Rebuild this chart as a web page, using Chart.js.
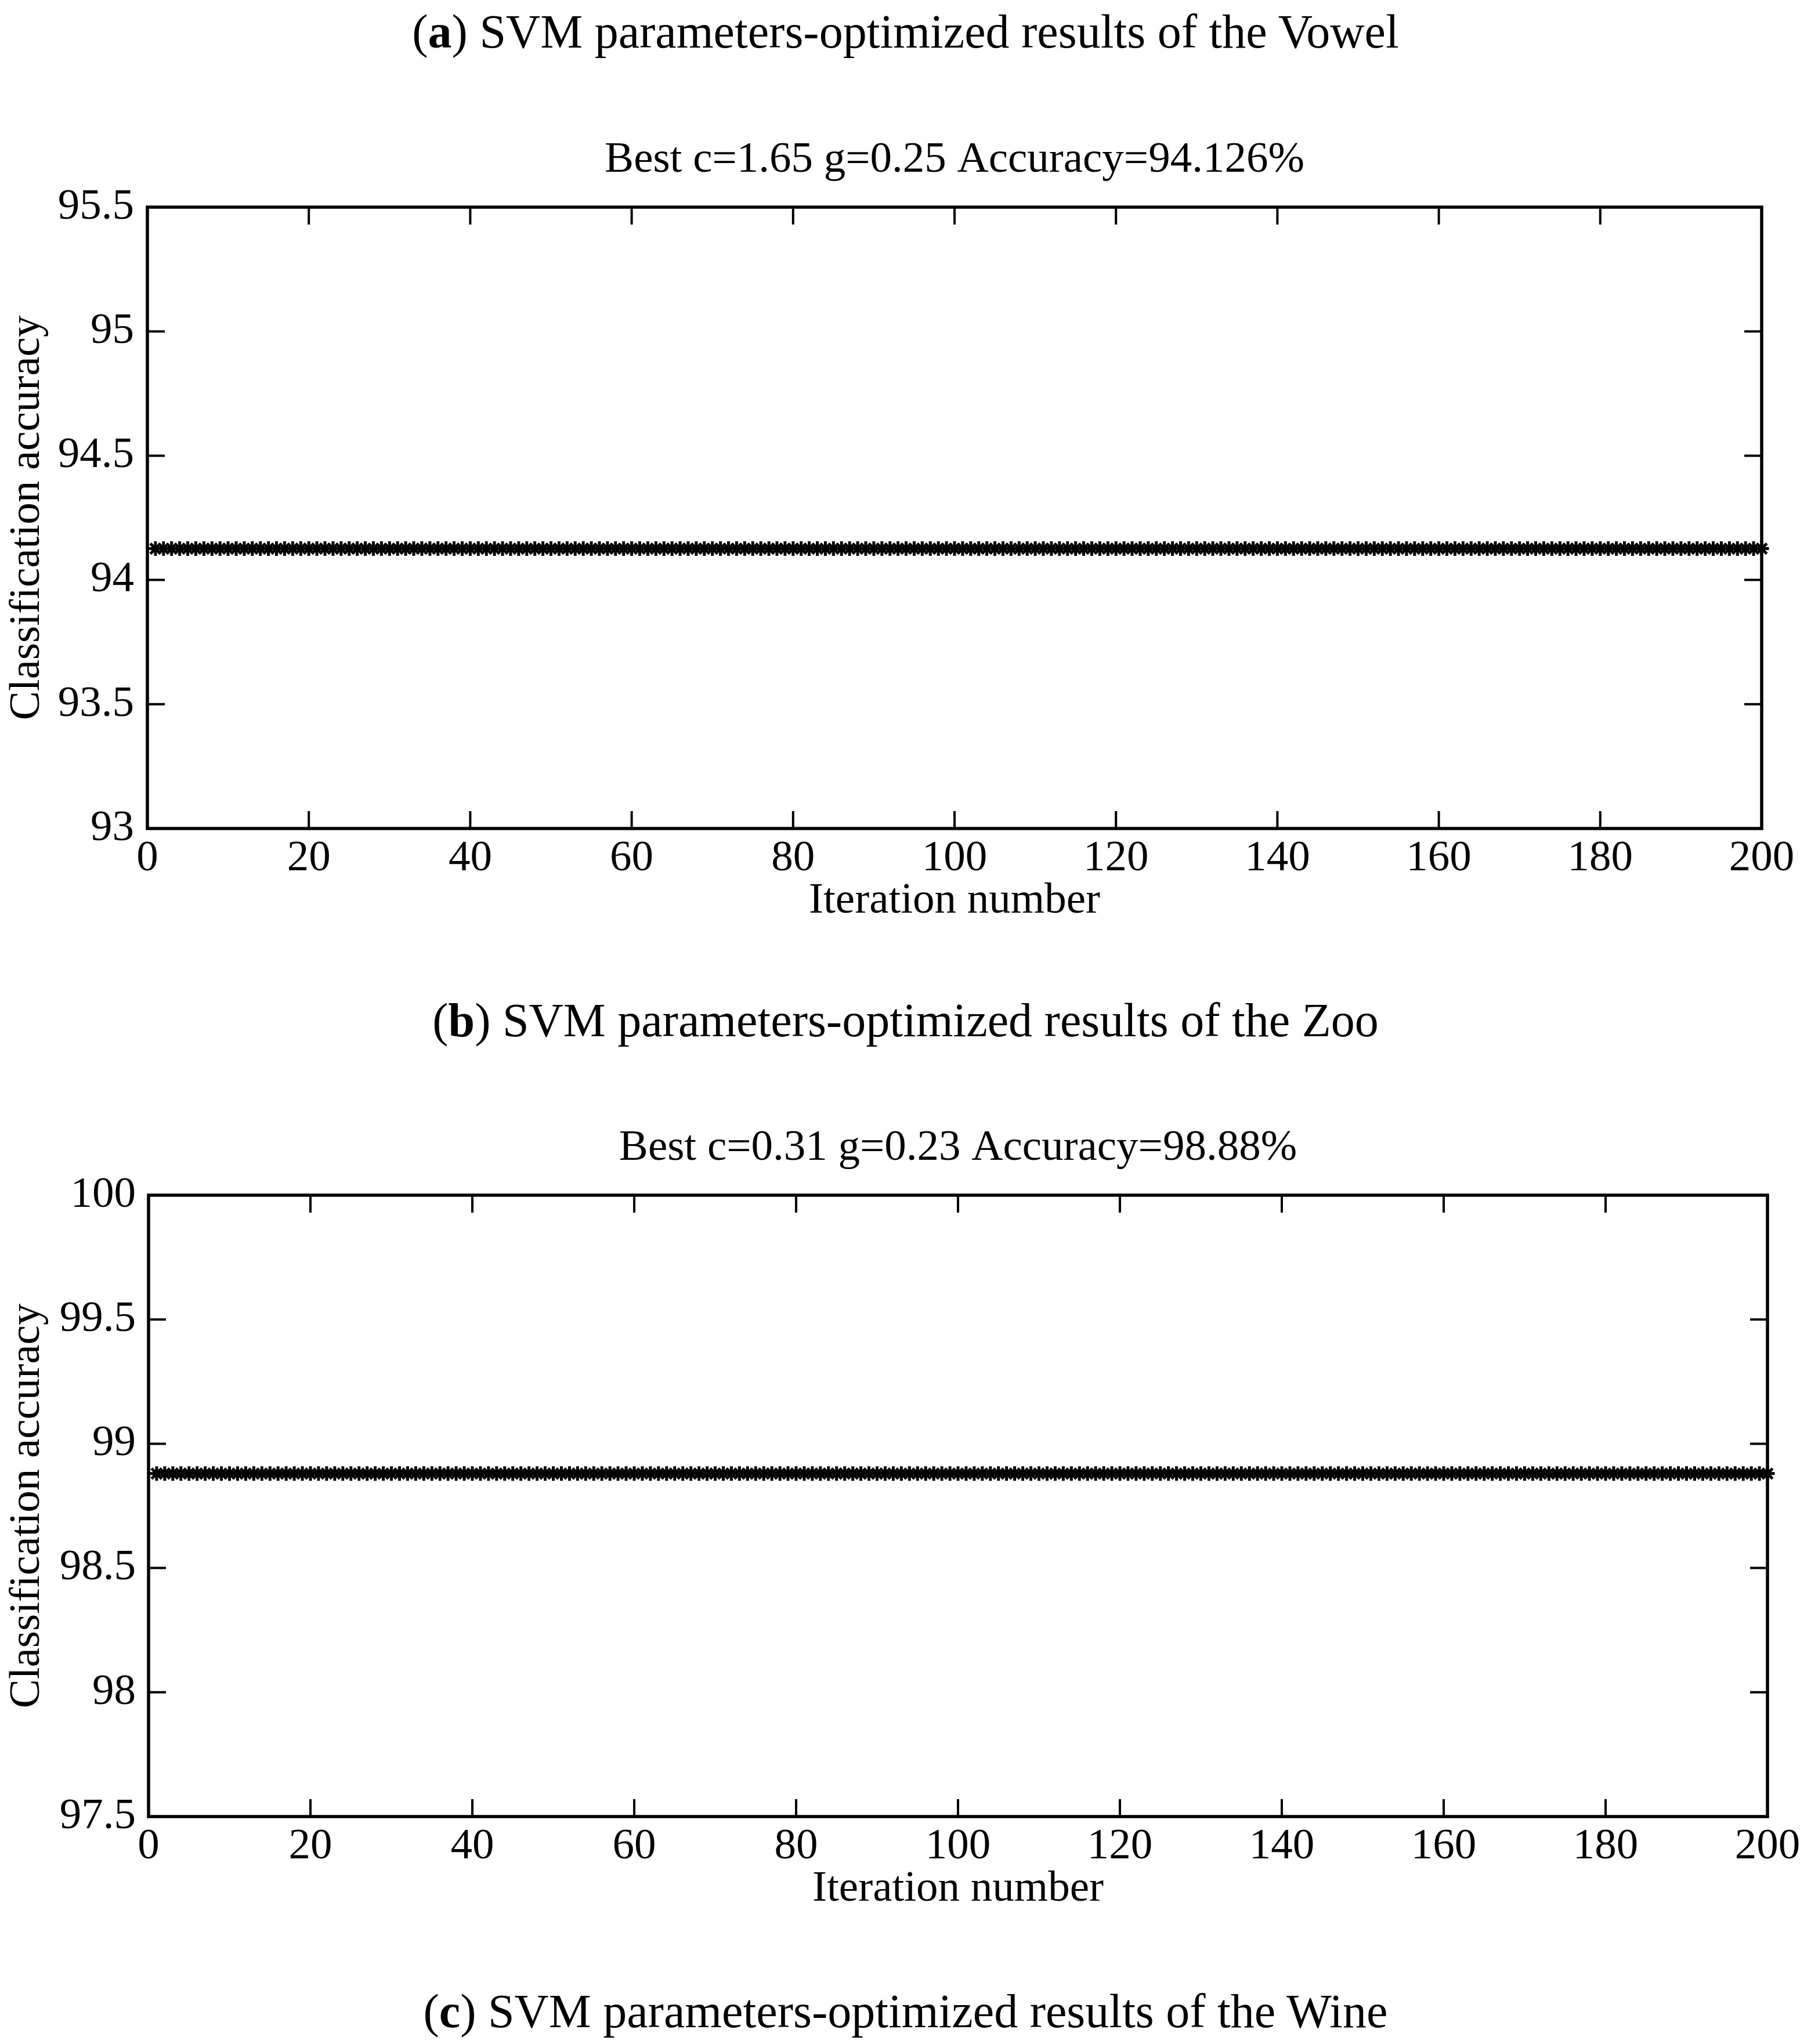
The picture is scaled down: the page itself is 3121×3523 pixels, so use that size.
<!DOCTYPE html>
<html>
<head>
<meta charset="utf-8">
<script src="https://cdn.jsdelivr.net/npm/chart.js@4.4.1/dist/chart.umd.min.js"></script>
<style>
html,body{margin:0;padding:0;background:#fff;overflow:hidden;}
#page{position:relative;width:3121px;height:3523px;background:#fff;}
.cap{position:absolute;left:0;width:3121px;text-align:center;font-family:'Liberation Serif','Times New Roman',serif;font-size:82px;line-height:82px;color:#000;white-space:nowrap;}
canvas{position:absolute;left:0;}
</style>
</head>
<body>
<div id="page">
<div class="cap" id="capA" style="top:14px"></div>
<canvas id="c1" width="3121" height="1440" style="top:180px;width:3121px;height:1440px"></canvas>
<div class="cap" id="capB" style="top:1718px"></div>
<canvas id="c2" width="3121" height="1440" style="top:1883px;width:3121px;height:1440px"></canvas>
<div class="cap" id="capC" style="top:3426px"></div>
</div>
<script>
// ---------------- data ----------------
const captionLetters = ['a', 'b', 'c'];
const captionTexts = [
  ' SVM parameters-optimized results of the Vowel',
  ' SVM parameters-optimized results of the Zoo',
  ' SVM parameters-optimized results of the Wine'
];
const chartTitles = [
  'Best c=1.65 g=0.25 Accuracy=94.126%',
  'Best c=0.31 g=0.23 Accuracy=98.88%'
];
const xAxisTitle = 'Iteration number';
const yAxisTitle = 'Classification accuracy';
const xTickValues = [0, 20, 40, 60, 80, 100, 120, 140, 160, 180, 200];
const yTickValuesChart1 = [93, 93.5, 94, 94.5, 95, 95.5];
const yTickValuesChart2 = [97.5, 98, 98.5, 99, 99.5, 100];

const iterations = [
  1,2,3,4,5,6,7,8,9,10,11,12,13,14,15,16,17,18,19,20,
  21,22,23,24,25,26,27,28,29,30,31,32,33,34,35,36,37,38,39,40,
  41,42,43,44,45,46,47,48,49,50,51,52,53,54,55,56,57,58,59,60,
  61,62,63,64,65,66,67,68,69,70,71,72,73,74,75,76,77,78,79,80,
  81,82,83,84,85,86,87,88,89,90,91,92,93,94,95,96,97,98,99,100,
  101,102,103,104,105,106,107,108,109,110,111,112,113,114,115,116,117,118,119,120,
  121,122,123,124,125,126,127,128,129,130,131,132,133,134,135,136,137,138,139,140,
  141,142,143,144,145,146,147,148,149,150,151,152,153,154,155,156,157,158,159,160,
  161,162,163,164,165,166,167,168,169,170,171,172,173,174,175,176,177,178,179,180,
  181,182,183,184,185,186,187,188,189,190,191,192,193,194,195,196,197,198,199,200
];
const accuracyVowel = [
  94.126,94.126,94.126,94.126,94.126,94.126,94.126,94.126,94.126,94.126,94.126,94.126,94.126,94.126,94.126,94.126,94.126,94.126,94.126,94.126,
  94.126,94.126,94.126,94.126,94.126,94.126,94.126,94.126,94.126,94.126,94.126,94.126,94.126,94.126,94.126,94.126,94.126,94.126,94.126,94.126,
  94.126,94.126,94.126,94.126,94.126,94.126,94.126,94.126,94.126,94.126,94.126,94.126,94.126,94.126,94.126,94.126,94.126,94.126,94.126,94.126,
  94.126,94.126,94.126,94.126,94.126,94.126,94.126,94.126,94.126,94.126,94.126,94.126,94.126,94.126,94.126,94.126,94.126,94.126,94.126,94.126,
  94.126,94.126,94.126,94.126,94.126,94.126,94.126,94.126,94.126,94.126,94.126,94.126,94.126,94.126,94.126,94.126,94.126,94.126,94.126,94.126,
  94.126,94.126,94.126,94.126,94.126,94.126,94.126,94.126,94.126,94.126,94.126,94.126,94.126,94.126,94.126,94.126,94.126,94.126,94.126,94.126,
  94.126,94.126,94.126,94.126,94.126,94.126,94.126,94.126,94.126,94.126,94.126,94.126,94.126,94.126,94.126,94.126,94.126,94.126,94.126,94.126,
  94.126,94.126,94.126,94.126,94.126,94.126,94.126,94.126,94.126,94.126,94.126,94.126,94.126,94.126,94.126,94.126,94.126,94.126,94.126,94.126,
  94.126,94.126,94.126,94.126,94.126,94.126,94.126,94.126,94.126,94.126,94.126,94.126,94.126,94.126,94.126,94.126,94.126,94.126,94.126,94.126,
  94.126,94.126,94.126,94.126,94.126,94.126,94.126,94.126,94.126,94.126,94.126,94.126,94.126,94.126,94.126,94.126,94.126,94.126,94.126,94.126
];
const accuracyZoo = [
  98.88,98.88,98.88,98.88,98.88,98.88,98.88,98.88,98.88,98.88,98.88,98.88,98.88,98.88,98.88,98.88,98.88,98.88,98.88,98.88,
  98.88,98.88,98.88,98.88,98.88,98.88,98.88,98.88,98.88,98.88,98.88,98.88,98.88,98.88,98.88,98.88,98.88,98.88,98.88,98.88,
  98.88,98.88,98.88,98.88,98.88,98.88,98.88,98.88,98.88,98.88,98.88,98.88,98.88,98.88,98.88,98.88,98.88,98.88,98.88,98.88,
  98.88,98.88,98.88,98.88,98.88,98.88,98.88,98.88,98.88,98.88,98.88,98.88,98.88,98.88,98.88,98.88,98.88,98.88,98.88,98.88,
  98.88,98.88,98.88,98.88,98.88,98.88,98.88,98.88,98.88,98.88,98.88,98.88,98.88,98.88,98.88,98.88,98.88,98.88,98.88,98.88,
  98.88,98.88,98.88,98.88,98.88,98.88,98.88,98.88,98.88,98.88,98.88,98.88,98.88,98.88,98.88,98.88,98.88,98.88,98.88,98.88,
  98.88,98.88,98.88,98.88,98.88,98.88,98.88,98.88,98.88,98.88,98.88,98.88,98.88,98.88,98.88,98.88,98.88,98.88,98.88,98.88,
  98.88,98.88,98.88,98.88,98.88,98.88,98.88,98.88,98.88,98.88,98.88,98.88,98.88,98.88,98.88,98.88,98.88,98.88,98.88,98.88,
  98.88,98.88,98.88,98.88,98.88,98.88,98.88,98.88,98.88,98.88,98.88,98.88,98.88,98.88,98.88,98.88,98.88,98.88,98.88,98.88,
  98.88,98.88,98.88,98.88,98.88,98.88,98.88,98.88,98.88,98.88,98.88,98.88,98.88,98.88,98.88,98.88,98.88,98.88,98.88,98.88
];

// ---------------- captions ----------------
['capA', 'capB', 'capC'].forEach((id, i) => {
  const el = document.getElementById(id);
  el.append('(');
  const b = document.createElement('b');
  b.textContent = captionLetters[i];
  el.append(b);
  el.append(')' + captionTexts[i]);
});

// ---------------- charts ----------------
const FONT = "'Liberation Serif', 'Times New Roman', serif";

const frameTicks = {
  id: 'frameTicks',
  beforeDatasetsDraw(chart) {
    const { ctx, chartArea: a } = chart;
    const xs = chart.scales.x, ys = chart.scales.y;
    const L = 30;
    ctx.save();
    ctx.strokeStyle = '#000';
    ctx.lineCap = 'butt';
    ctx.lineWidth = 4;
    ctx.beginPath();
    xs.ticks.forEach(t => {
      const px = xs.getPixelForValue(t.value);
      ctx.moveTo(px, a.bottom); ctx.lineTo(px, a.bottom - L);
      ctx.moveTo(px, a.top); ctx.lineTo(px, a.top + L);
    });
    ys.ticks.forEach(t => {
      const py = ys.getPixelForValue(t.value);
      ctx.moveTo(a.left, py); ctx.lineTo(a.left + L, py);
      ctx.moveTo(a.right, py); ctx.lineTo(a.right - L, py);
    });
    ctx.stroke();
    ctx.lineWidth = 5.5;
    ctx.strokeRect(a.left, a.top, a.right - a.left, a.bottom - a.top);
    ctx.restore();
  }
};

function makeChart(id, title, yTicks, values, yAxisWidth, rightPad, yLabelPad) {
  const points = iterations.map((it, i) => ({ x: it, y: values[i] }));
  return new Chart(document.getElementById(id), {
    type: 'line',
    data: {
      datasets: [{
        data: points,
        borderColor: '#000',
        borderWidth: 5,
        pointStyle: 'star',
        pointRadius: 12.5,
        pointBorderWidth: 5,
        pointBorderColor: '#000',
        pointBackgroundColor: '#000',
        clip: false,
        tension: 0
      }]
    },
    options: {
      responsive: false,
      animation: false,
      devicePixelRatio: 1,
      layout: { padding: { left: 0, right: rightPad, top: 0, bottom: 0 } },
      plugins: {
        legend: { display: false },
        tooltip: { enabled: false },
        title: {
          display: true,
          fullSize: false,
          text: title,
          color: '#000',
          font: { family: FONT, size: 75, weight: 'normal', lineHeight: 1 },
          padding: { top: 59, bottom: 43 }
        }
      },
      scales: {
        x: {
          type: 'linear',
          min: xTickValues[0],
          max: xTickValues[xTickValues.length - 1],
          grid: { display: false, drawTicks: false },
          border: { display: false },
          afterBuildTicks: s => { s.ticks = xTickValues.map(v => ({ value: v })); },
          afterFit: s => { s.height = 192; },
          ticks: {
            autoSkip: false, maxRotation: 0, minRotation: 0,
            color: '#000', padding: 14.5,
            font: { family: FONT, size: 75, lineHeight: 1 },
            callback: v => String(v)
          },
          title: {
            display: true, text: xAxisTitle, color: '#000',
            font: { family: FONT, size: 75, lineHeight: 1 },
            padding: { top: 0, bottom: 29.5 }
          }
        },
        y: {
          type: 'linear',
          min: yTicks[0],
          max: yTicks[yTicks.length - 1],
          grid: { display: false, drawTicks: false },
          border: { display: false },
          afterBuildTicks: s => { s.ticks = yTicks.map(v => ({ value: v })); },
          afterFit: s => { s.width = yAxisWidth; },
          ticks: {
            autoSkip: false,
            color: '#000', padding: yLabelPad,
            font: { family: FONT, size: 75, lineHeight: 1 },
            callback: v => String(v)
          },
          title: {
            display: true, text: yAxisTitle, color: '#000',
            font: { family: FONT, size: 75, lineHeight: 1 },
            padding: { top: 10, bottom: 0 }
          }
        }
      }
    },
    plugins: [frameTicks]
  });
}

makeChart('c1', chartTitles[0], yTickValuesChart1, accuracyVowel, 254, 85, 23);
makeChart('c2', chartTitles[1], yTickValuesChart2, accuracyZoo, 256, 75, 22);
</script>
</body>
</html>
